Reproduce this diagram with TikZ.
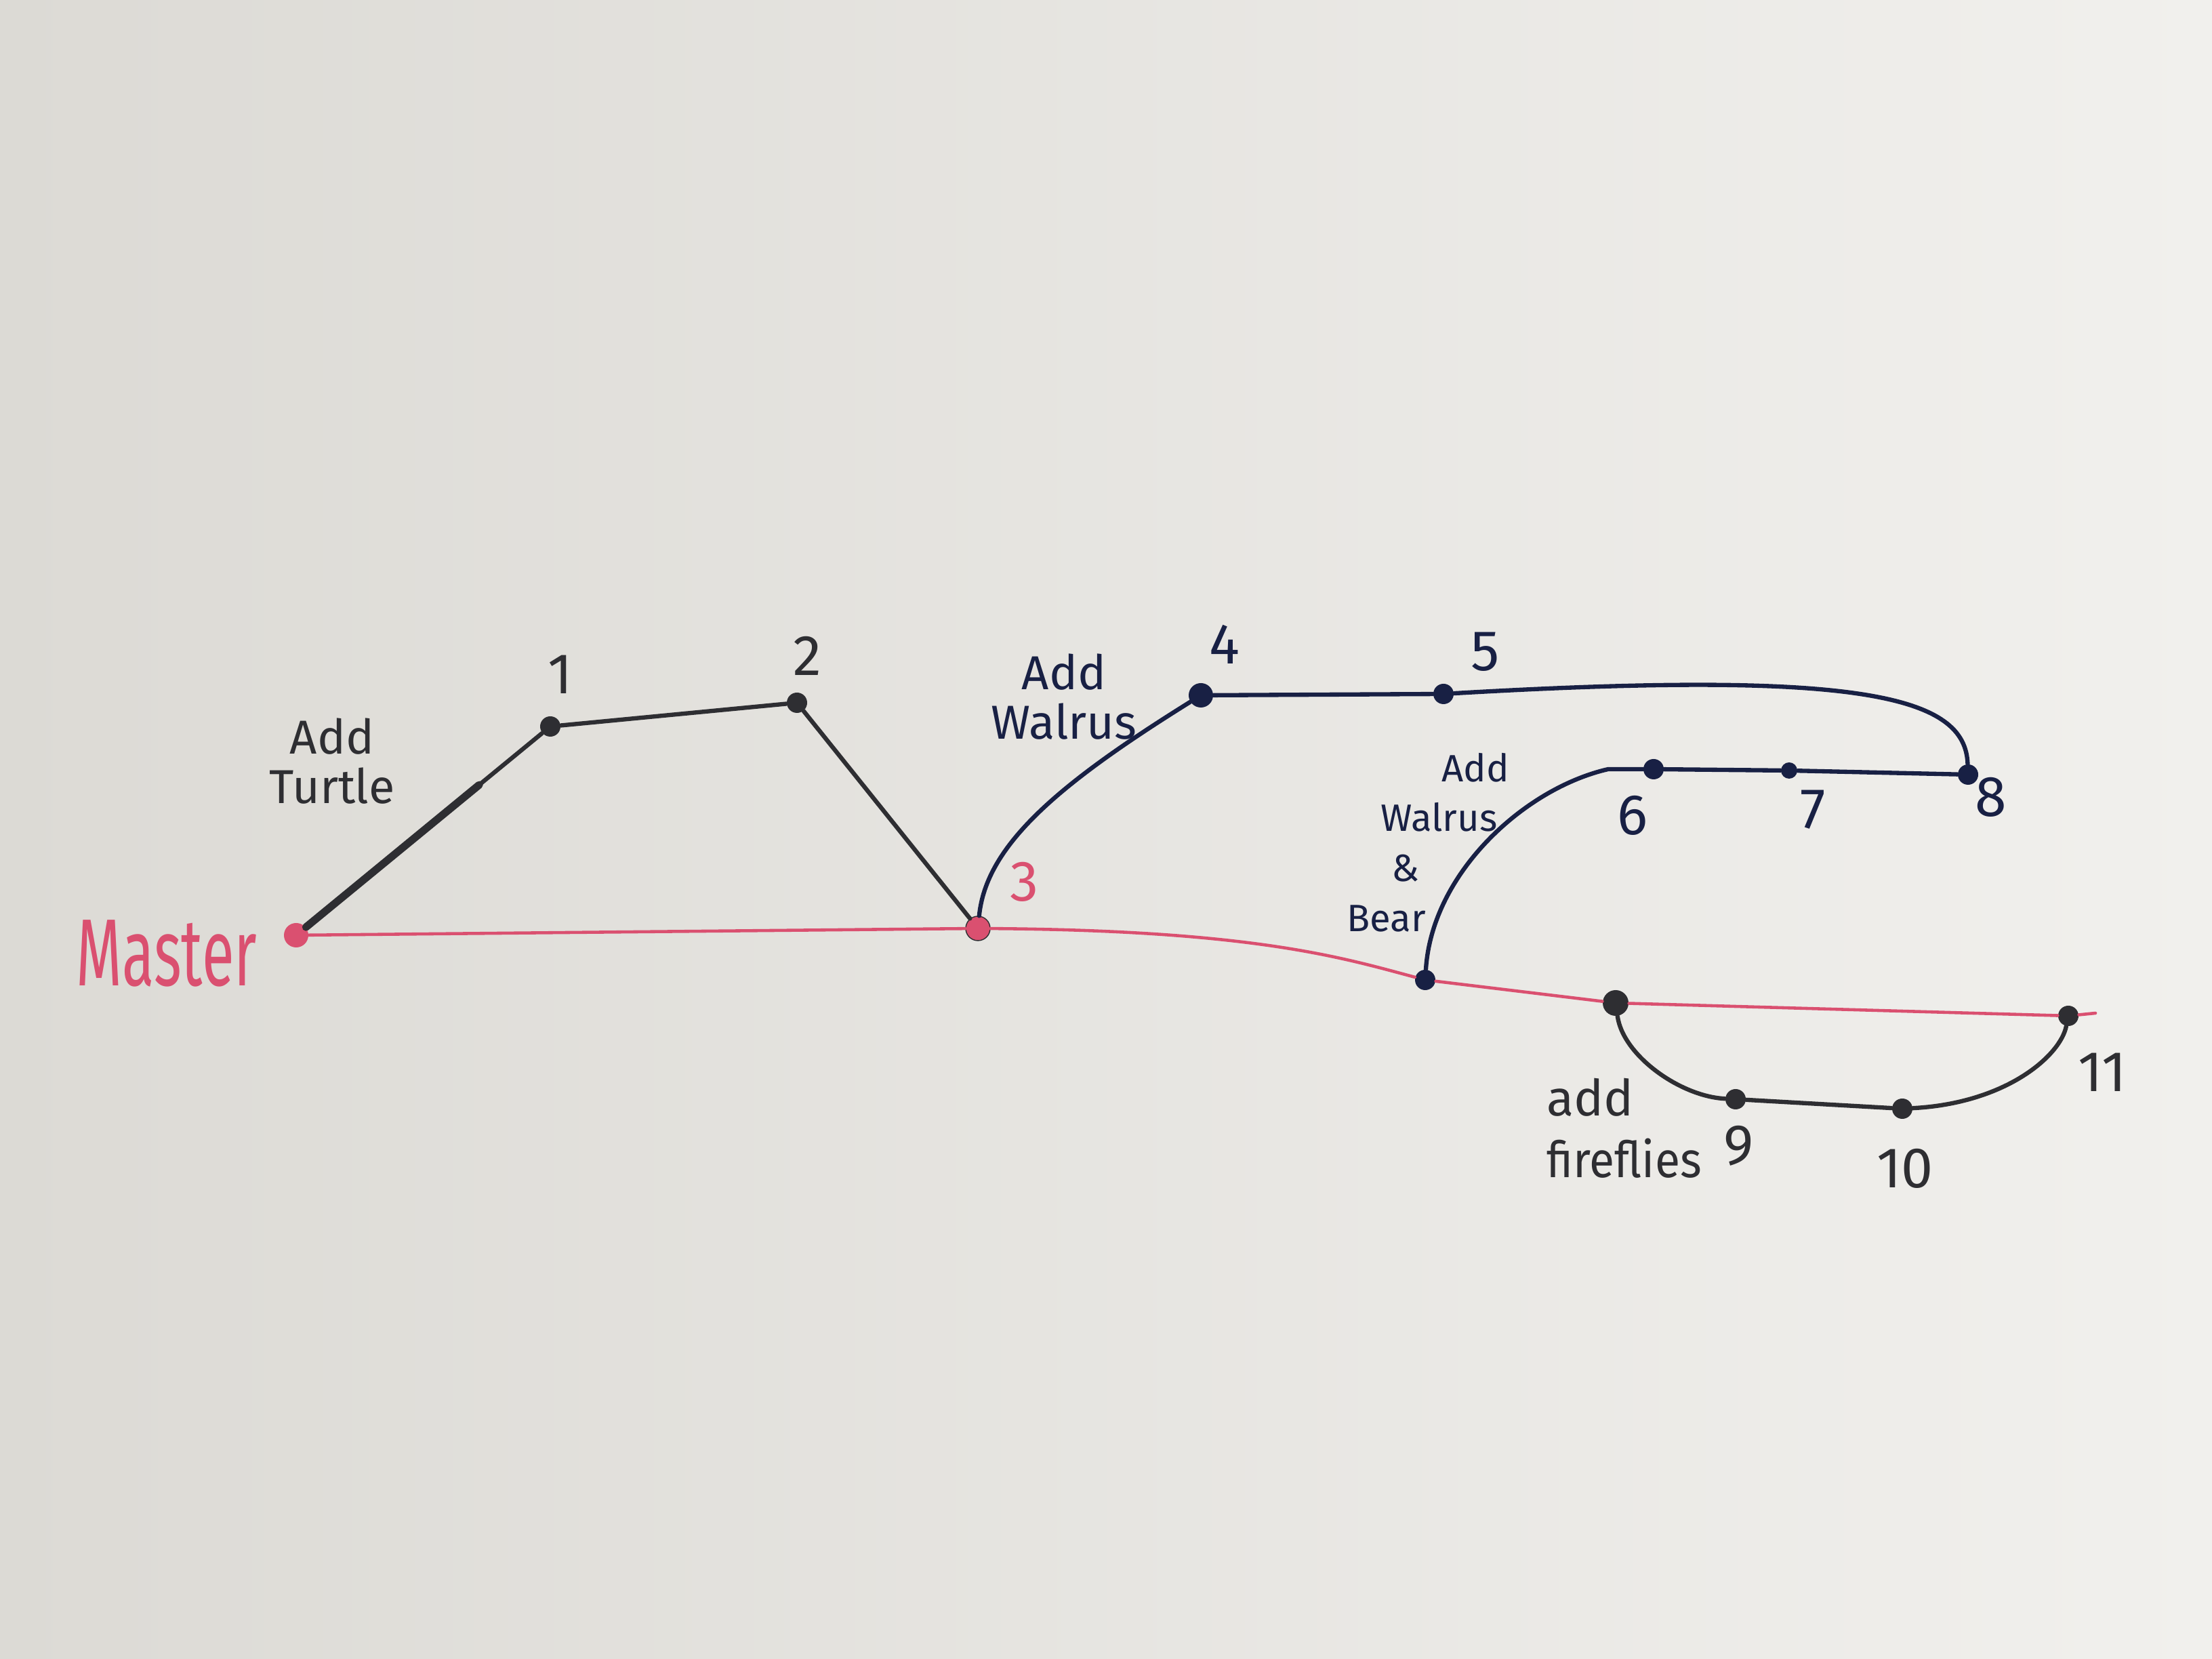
\documentclass[tikz,border=0pt]{standalone}
\usepackage{xcolor}
\usepackage{graphicx}
\usepackage{tikz}
\usetikzlibrary{positioning, calc}
\usepackage{fontspec}
\setmainfont{Fira Sans}

\definecolor{paperL}{RGB}{220,218,213}
\definecolor{paperR}{RGB}{241,240,237}
\definecolor{masterred}{RGB}{218,80,112}
\definecolor{inknavy}{RGB}{24,32,68}
\definecolor{inkgray}{RGB}{46,46,50}

\begin{document}
\begin{tikzpicture}[
    commit/.style={circle, fill, inner sep=0pt, minimum size=3mm},
    num/.style={font=\fontsize{24}{28}\selectfont},
    note/.style={font=\fontsize{20}{21}\selectfont, align=center},
    branch/.style={line width=1.8pt, line cap=round, line join=round}
]
    % paper
    \shade[left color=paperL, right color=paperR] (0,0) rectangle (32.64,24.48);
    \useasboundingbox (0,0) rectangle (32.64,24.48);

    % commits
    \node[commit, masterred, minimum size=3.6mm] (m0) at (4.37,10.68) {};
    \node[commit, inkgray] (c1) at (8.12,13.76) {};
    \node[commit, inkgray] (c2) at (11.76,14.11) {};
    \node[commit, masterred, draw=inkgray, minimum size=3.6mm] (c3) at (14.43,10.78) {};
    \node[commit, inknavy, minimum size=3.6mm] (c4) at (17.72,14.22) {};
    \node[commit, inknavy] (c5) at (21.30,14.24) {};
    \node[commit, inknavy] (b0) at (21.03,10.02) {};
    \coordinate (kink) at (23.73,13.13);
    \node[commit, inknavy] (c6) at (24.40,13.13) {};
    \node[commit, inknavy, minimum size=2.4mm] (c7) at (26.40,13.11) {};
    \node[commit, inknavy] (c8) at (29.04,13.05) {};
    \node[commit, inkgray, minimum size=3.8mm] (f0) at (23.84,9.68) {};
    \node[commit, inkgray] (c9) at (25.61,8.26) {};
    \node[commit, inkgray] (c10) at (28.07,8.12) {};
    \node[commit, inkgray] (c11) at (30.52,9.49) {};
    \coordinate (mend) at (30.92,9.53);

    % master
    \draw[masterred, line width=1.3pt, line cap=round]
        (m0) -- (c3) .. controls (18.5,10.75) and (19.8,10.35) .. (b0) -- (f0) -- (c11) -- (mend);

    % turtle
    \draw[inkgray, line width=3.2pt, line cap=round] (m0) -- ($(m0)!0.72!(c1)$);
    \draw[branch, inkgray] (m0) -- (c1) -- (c2) -- (c3);

    % walrus
    \draw[branch, inknavy] (c3) .. controls (14.55,12.0) and (15.6,12.9) .. (c4) -- (c5)
        .. controls (27.5,14.6) and (29.0,14.2) .. (c8);

    % walrus & bear
    \draw[branch, inknavy] (b0) .. controls (21.13,11.6) and (22.5,12.85) .. (kink)
        -- (c6) -- (c7) -- (c8);

    % fireflies
    \draw[branch, inkgray] (f0) .. controls (23.95,8.9) and (24.8,8.3) .. (c9) -- (c10)
        .. controls (29.6,8.2) and (30.4,8.9) .. (c11);

    % labels
    \node[masterred, font=\fontsize{40}{44}\selectfont] (lmaster) at (2.46,10.41)
        {\scalebox{0.62}[1]{Master}};
    \node[num, inkgray] (l1) at (8.27,14.53) {1};
    \node[num, inkgray] (l2) at (11.91,14.80) {2};
    \node[num, masterred] (l3) at (15.12,11.47) {3};
    \node[num, inknavy] (l4) at (18.07,14.97) {4};
    \node[num, inknavy] (l5) at (21.92,14.86) {5};
    \node[num, inknavy] (l6) at (24.09,12.45) {6};
    \node[num, inknavy] (l7) at (26.75,12.53) {7};
    \node[num, inknavy] (l8) at (29.38,12.72) {8};
    \node[num, inkgray] (l9) at (25.66,7.57) {9};
    \node[num, inkgray] (l10) at (28.11,7.24) {10};
    \node[num, inkgray] (l11) at (31.02,8.66) {11};

    \node[note, inkgray] (tturtle) at (4.90,13.25) {Add\\Turtle};
    \node[note, inknavy] (twalrus) at (15.70,14.20) {Add\\Walrus};
    \node[note, inknavy, font=\fontsize{16}{21}\selectfont, align=left, anchor=west] (tbear)
        at (19.75,12.05) {\hspace{1.4cm}Add\\\hspace{0.5cm}Walrus\\\hspace{0.66cm}\&\\Bear};
    \node[note, inkgray, align=left, anchor=west, font=\fontsize{21}{26}\selectfont] (tflies)
        at (22.70,7.83) {add\\\scalebox{0.92}[1]{fireflies}};
\end{tikzpicture}
\end{document}
